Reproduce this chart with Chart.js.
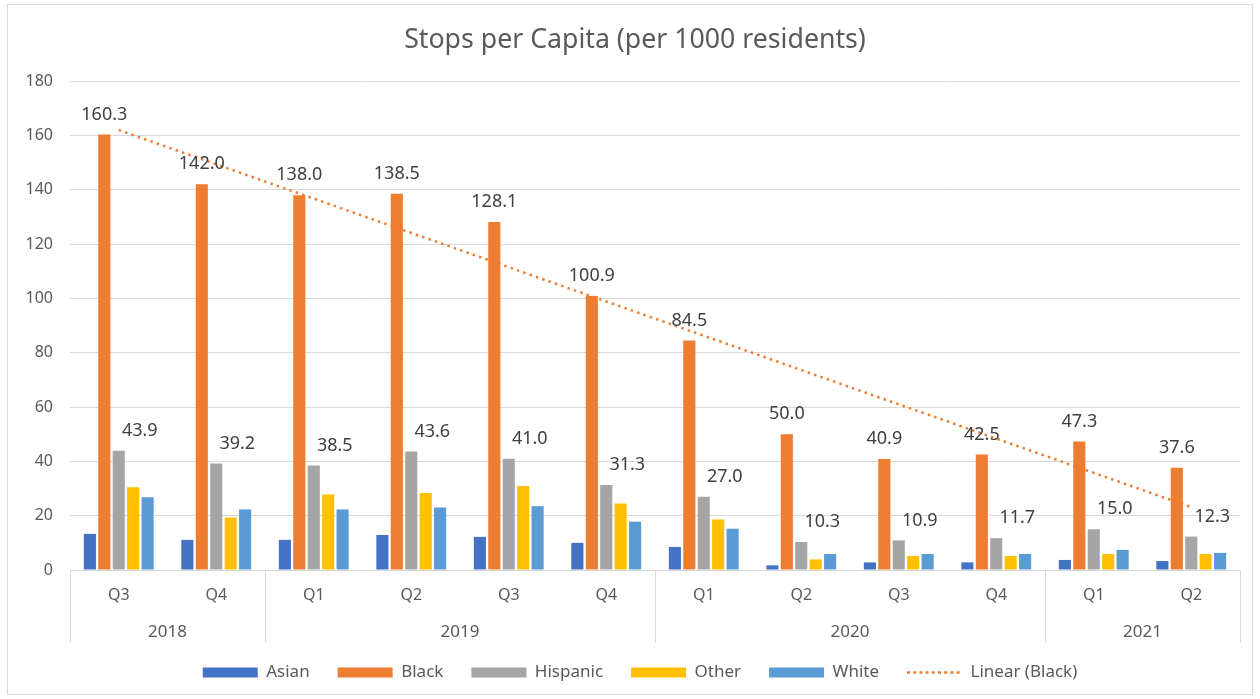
<!DOCTYPE html>
<html><head><meta charset="utf-8">
<script src="https://cdn.jsdelivr.net/npm/chart.js@4.4.1/dist/chart.umd.min.js"></script>
<style>html,body{margin:0;padding:0;background:#fff;}#wrap{width:1260px;height:699px;position:relative;}</style>
</head><body>
<div id="wrap"><canvas id="c" width="1260" height="699"></canvas></div>
<script>
const titleText = 'Stops per Capita (per 1000 residents)';
const quarters = ['Q3','Q4','Q1','Q2','Q3','Q4','Q1','Q2','Q3','Q4','Q1','Q2'];
const years = ['2018','2018','2019','2019','2019','2019','2020','2020','2020','2020','2021','2021'];
const asian = [13.3,11.1,11.1,12.9,12.2,10.0,8.5,1.7,2.8,2.8,3.7,3.3];
const black = [160.3,142.0,138.0,138.5,128.1,100.9,84.5,50.0,40.9,42.5,47.3,37.6];
const hispanic = [43.9,39.2,38.5,43.6,41.0,31.3,27.0,10.3,10.9,11.7,15.0,12.3];
const other = [30.5,19.3,27.8,28.3,30.9,24.5,18.6,3.9,5.2,5.2,5.9,5.9];
const white = [26.8,22.3,22.3,23.0,23.5,17.8,15.2,5.9,5.9,5.9,7.4,6.3];
const yTicks = [0,20,40,60,80,100,120,140,160,180];

// Linear trendline (least squares) of the Black series, as in the source chart
function linearFit(arr){
  const n = arr.length; let sx=0, sy=0, sxy=0, sxx=0;
  arr.forEach((v,i)=>{const x=i+1; sx+=x; sy+=v; sxy+=x*v; sxx+=x*x;});
  const b=(n*sxy-sx*sy)/(n*sxx-sx*sx); const a=(sy-b*sx)/n;
  return arr.map((v,i)=>a+b*(i+1));
}
const blackTrend = linearFit(black);

const TXT = '#595959';
const FONT = "'Noto Sans', 'DejaVu Sans', sans-serif";

const bgPlugin = {
  id:'bg',
  afterLayout(chart){
    if(chart.titleBlock){chart.titleBlock.left+=11; chart.titleBlock.right+=11;}
    if(chart.legend){chart.legend.left+=16; chart.legend.right+=16; chart.legend.top+=2; chart.legend.bottom+=2;}
  },
  beforeDraw(chart){
    const ctx=chart.ctx; ctx.save();
    ctx.fillStyle='#fff'; ctx.fillRect(0,0,chart.width,chart.height);
    ctx.strokeStyle='#d9d9d9'; ctx.lineWidth=1;
    ctx.strokeRect(7.5,4.5,1245,690);
    ctx.restore();
  }
};

const labelPlugin = {
  id:'vals',
  afterDatasetsDraw(chart){
    const ctx=chart.ctx; ctx.save();
    ctx.font = "18px " + FONT; ctx.fillStyle='#404040';
    ctx.textAlign='center'; ctx.textBaseline='middle';
    [[1,0],[2,21]].forEach(([di,off])=>{
      const meta=chart.getDatasetMeta(di);
      const ds=chart.data.datasets[di].data;
      meta.data.forEach((el,i)=>{
        ctx.fillText(ds[i].toFixed(1), el.x+off, el.y-20);
      });
    });
    ctx.restore();
  }
};

const yearPlugin = {
  id:'years',
  afterDraw(chart){
    const xs=chart.scales.x; const ctx=chart.ctx; ctx.save();
    const n=quarters.length; const w=(xs.right-xs.left)/n;
    const top=chart.chartArea.bottom, bot=643;
    ctx.strokeStyle='#d9d9d9'; ctx.lineWidth=1;
    ctx.font="17px "+FONT; ctx.fillStyle=TXT; ctx.textAlign='center'; ctx.textBaseline='middle';
    let start=0;
    const bounds=[0];
    for(let i=1;i<=n;i++){
      if(i===n || years[i]!==years[start]){
        const l=xs.left+start*w, r=xs.left+i*w;
        ctx.fillText(years[start],(l+r)/2,632);
        bounds.push(i); start=i;
      }
    }
    bounds.forEach(b=>{
      const x=Math.round(xs.left+b*w)+0.5;
      ctx.beginPath(); ctx.moveTo(x,top); ctx.lineTo(x,bot); ctx.stroke();
    });
    ctx.restore();
  }
};

const barDs = (label,data,color)=>({type:'bar',label,data,backgroundColor:color,borderWidth:0,
  categoryPercentage:0.74,barPercentage:0.84});

new Chart(document.getElementById('c'),{
  data:{
    labels:quarters,
    datasets:[
      barDs('Asian',asian,'#4472C4'),
      barDs('Black',black,'#ED7D31'),
      barDs('Hispanic',hispanic,'#A5A5A5'),
      barDs('Other',other,'#FFC000'),
      barDs('White',white,'#5B9BD5'),
      {type:'line',label:'Linear (Black)',data:blackTrend,borderColor:'#ED7D31',backgroundColor:'#ED7D31',
       borderWidth:2.5,borderDash:[2.5,4.2],pointRadius:0,fill:false,tension:0,order:-1}
    ]
  },
  options:{
    responsive:false, animation:false,
    layout:{padding:{left:8,right:20,top:18,bottom:10}},
    plugins:{
      tooltip:{enabled:false},
      title:{display:true,text:titleText,color:TXT,font:{family:FONT,size:26.7,weight:'normal'},padding:{top:6,bottom:25}},
      legend:{position:'bottom',
        labels:{
          usePointStyle:true,pointStyleWidth:55,boxHeight:10,padding:28,color:TXT,font:{family:FONT,size:17},
          sort:(a,b)=>a.datasetIndex-b.datasetIndex,
          generateLabels(chart){
            return chart.data.datasets.map((ds,i)=>{
              const isLine=ds.type==='line';
              return {text:ds.label,datasetIndex:i,fillStyle:isLine?'rgba(0,0,0,0)':ds.backgroundColor,
                strokeStyle:ds.borderColor||ds.backgroundColor,lineWidth:isLine?2.5:0,
                lineDash:isLine?[3,3.2]:[],pointStyle:isLine?'line':'rect',fontColor:TXT,hidden:false};
            });
          }
        }
      }
    },
    scales:{
      x:{
        grid:{display:false},
        border:{display:true,color:'#d9d9d9',width:1},
        ticks:{color:TXT,font:{family:FONT,size:16},padding:8,maxRotation:0,autoSkip:false},
        afterFit(s){s.height=64;}
      },
      y:{
        min:0,max:180,
        afterBuildTicks(s){s.ticks=yTicks.map(v=>({value:v}));},
        grid:{color:'#d9d9d9',lineWidth:1,drawTicks:false},
        border:{display:false},
        ticks:{color:TXT,font:{family:FONT,size:16},padding:17},
        afterFit(s){s.width=62;}
      }
    }
  },
  plugins:[bgPlugin,labelPlugin,yearPlugin]
});
</script>
</body></html>
